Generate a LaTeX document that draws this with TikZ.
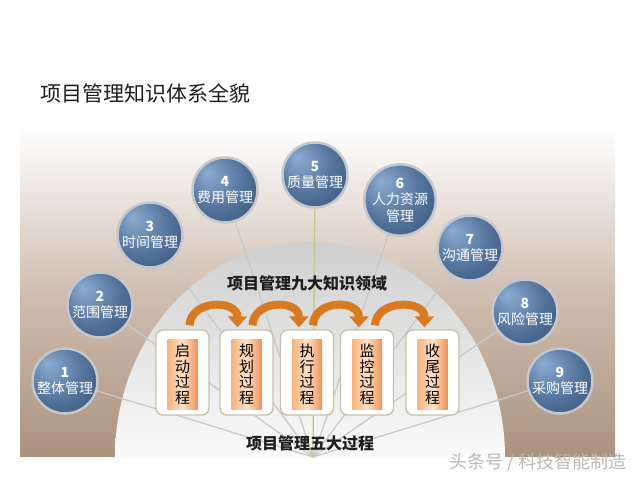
\documentclass[tikz,border=0pt]{standalone}
\usepackage{fontspec}
\newfontfamily\cjk{Noto Sans CJK SC}
\usetikzlibrary{arrows.meta}
\definecolor{panelB}{RGB}{172,146,126}
\definecolor{panelM}{RGB}{208,190,176}
\definecolor{semiT}{RGB}{206,206,206}
\definecolor{semiB}{RGB}{250,250,250}
\definecolor{linkC}{RGB}{200,200,200}
\definecolor{linkY}{RGB}{196,196,140}
\definecolor{bubA}{RGB}{140,172,210}
\definecolor{bubB}{RGB}{84,116,156}
\definecolor{bubC}{RGB}{40,64,98}
\definecolor{rimC}{RGB}{196,200,206}
\definecolor{boxE}{RGB}{200,194,172}
\definecolor{stripL}{RGB}{248,180,124}
\definecolor{stripM}{RGB}{253,224,200}
\definecolor{stripR}{RGB}{242,146,84}
\definecolor{arrC}{RGB}{216,122,34}
\definecolor{titleC}{RGB}{30,30,30}
\definecolor{wmC}{RGB}{185,185,185}
\pgfdeclareradialshading{bubble}{\pgfpoint{-14bp}{14bp}}{color(0bp)=(bubA); color(22bp)=(bubB); color(50bp)=(bubC)}
\pgfdeclarelayer{bg}
\pgfsetlayers{bg,main}
\tikzset{
  bub/.style={circle, minimum size=65pt, inner sep=0pt, shade, shading=bubble,
    draw=rimC, line width=2.5pt, text=white, align=center,
    font=\cjk\fontsize{14}{16.5}\selectfont},
  link/.style={draw=linkC, line width=1.3pt},
  pbox/.style={draw=boxE, line width=1.4pt, fill=white, rounded corners=7pt,
    minimum width=53pt, minimum height=85pt, inner sep=0pt},
  pstrip/.style={left color=stripL, right color=stripR, middle color=stripM,
    minimum width=30pt, minimum height=70pt, inner sep=0pt, align=center,
    text=black, font=\cjk\fontsize{15}{15.5}\selectfont},
  parrow/.style={draw=arrC, line width=8pt, -{Triangle[width=19pt,length=11pt]}},
  lbl/.style={text=titleC, inner sep=0pt, font=\cjk\fontsize{16}{18}\selectfont\bfseries}
}
\begin{document}
\begin{tikzpicture}[x=1pt,y=-1pt]
\useasboundingbox (0,0) rectangle (640,480);
\begin{pgfonlayer}{bg}
  \fill[white] (0,0) rectangle (640,480);
  \shade[top color=white, bottom color=panelB, middle color=panelM] (20,128) rectangle (615,456);
  \begin{scope}
    \clip (310,457) ellipse [x radius=195, y radius=215];
    \shade[top color=semiT, bottom color=semiB] (110,240) rectangle (510,457);
  \end{scope}
\end{pgfonlayer}

\coordinate (hub) at (313,457);

% knowledge areas
\node[bub] (k1) at (65,381) {{\bfseries 1}\\整体管理};
\node[bub] (k2) at (100,305) {{\bfseries 2}\\范围管理};
\node[bub] (k3) at (150,235) {{\bfseries 3}\\时间管理};
\node[bub] (k4) at (225,190) {{\bfseries 4}\\费用管理};
\node[bub] (k5) at (315,175) {{\bfseries 5}\\质量管理};
\node[bub] (k6) at (400,200) {{\bfseries 6}\\人力资源\\管理};
\node[bub] (k7) at (470,248) {{\bfseries 7}\\沟通管理};
\node[bub] (k8) at (525,312) {{\bfseries 8}\\风险管理};
\node[bub] (k9) at (560,381) {{\bfseries 9}\\采购管理};

\begin{pgfonlayer}{bg}
  \foreach \k in {1,2,3,4,6,7,8,9} \draw[link] (k\k) -- (hub);
  \draw[draw=linkY, line width=1.3pt] (k5) -- (hub);
\end{pgfonlayer}

% process boxes
\node[pbox] (p1) at (182.5,372.5) {};
\node[pbox] (p2) at (246.5,372.5) {};
\node[pbox] (p3) at (307,372.5) {};
\node[pbox] (p4) at (367,372.5) {};
\node[pbox] (p5) at (432.5,372.5) {};
\node[pstrip] (s1) at ([yshift=-2pt]p1.center) {启\\动\\过\\程};
\node[pstrip] (s2) at ([yshift=-2pt]p2.center) {规\\划\\过\\程};
\node[pstrip] (s3) at ([yshift=-2pt]p3.center) {执\\行\\过\\程};
\node[pstrip] (s4) at ([yshift=-2pt]p4.center) {监\\控\\过\\程};
\node[pstrip] (s5) at ([yshift=-2pt]p5.center) {收\\尾\\过\\程};

\draw[parrow] ([xshift=7pt,yshift=4pt]p1.north) .. controls +(1,-26) and +(0,-28) .. ([xshift=-9pt,yshift=2pt]p2.north);
\draw[parrow] ([xshift=6pt,yshift=4pt]p2.north) .. controls +(1,-26) and +(0,-28) .. ([xshift=-8pt,yshift=2pt]p3.north);
\draw[parrow] ([xshift=6pt,yshift=4pt]p3.north) .. controls +(1,-26) and +(0,-28) .. ([xshift=-8pt,yshift=2pt]p4.north);
\draw[parrow] ([xshift=8pt,yshift=4pt]p4.north) .. controls +(1,-26) and +(0,-28) .. ([xshift=-8pt,yshift=2pt]p5.north);

% labels
\node[lbl] (kt) at (307,283) {项目管理九大知识领域};
\node[lbl] (pt) at (310,443) {项目管理五大过程};
\node[anchor=west, inner sep=0pt, text=titleC, font=\cjk\fontsize{21}{24}\selectfont] (title) at (40,93) {项目管理知识体系全貌};

% watermark
\node[inner sep=0pt, text=wmC, font=\cjk\fontsize{18}{20}\selectfont] (wm) at (538,463) {头条号 / 科技智能制造};
\end{tikzpicture}
\end{document}
